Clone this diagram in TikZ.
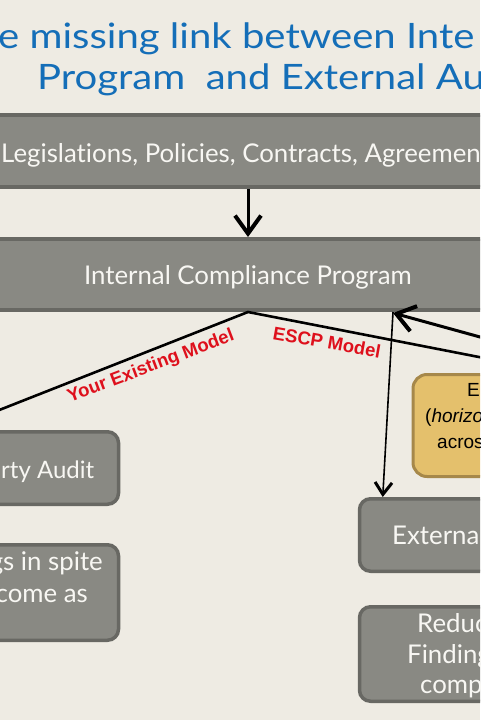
\documentclass[tikz,border=0pt]{standalone}
\usepackage{fontspec}
\setmainfont{Lato}[Ligatures=NoCommon]
\newfontfamily\titlefont[FakeStretch=1.145,Ligatures=NoCommon]{Lato}
\newfontfamily\arialfont{Liberation Sans}
\usetikzlibrary{arrows.meta}
\definecolor{bg}{RGB}{238,235,227}
\definecolor{boxfill}{RGB}{137,137,131}
\definecolor{boxline}{RGB}{104,104,99}
\definecolor{titleblue}{RGB}{20,110,184}
\definecolor{gold}{RGB}{228,192,108}
\definecolor{goldline}{RGB}{166,136,74}
\definecolor{labelred}{RGB}{222,16,28}
\definecolor{boxtext}{RGB}{248,247,243}
\begin{document}
\begin{tikzpicture}[x=1pt,y=-1pt,
  graybar/.style={draw=boxline, line width=4pt, fill=boxfill, inner sep=0pt},
  graybox/.style={draw=boxline, line width=3.5pt, fill=boxfill, rounded corners=11pt, inner sep=0pt},
  goldbox/.style={draw=goldline, line width=3pt, fill=gold, rounded corners=14pt, inner sep=0pt},
  titletext/.style={text=titleblue, font=\titlefont\fontsize{35}{40}\selectfont, inner sep=0pt},
  boxlabel/.style={text=boxtext, font=\fontsize{25.8}{30}\selectfont, inner sep=0pt},
  goldtext/.style={text=black, font=\arialfont\fontsize{19}{23}\selectfont, inner sep=0pt},
  redlabel/.style={text=labelred, font=\arialfont\bfseries\fontsize{18.5}{22}\selectfont, inner sep=0pt},
  thickarrow/.style={line width=3pt, -{Straight Barb[length=18pt,width=26pt,line width=4pt]}},
  thinarrow/.style={line width=1.6pt, -{Straight Barb[length=12pt,width=17pt,line width=3pt]}},
  modelline/.style={line width=2.6pt}
]
\useasboundingbox (0,0) rectangle (480,720);
\clip (0,0) rectangle (480,720);
\fill[bg] (0,0) rectangle (480,720);

% title
\node[titletext, anchor=base west] (title1) at (-2,48) {e missing link between Inte};
\node[titletext, anchor=base west] (title2) at (37,89) {Program~~and External Au};

% top bars
\node[graybar, minimum width=620pt, minimum height=72pt] (legis) at (248,151) {};
\node[boxlabel, anchor=base west] (legistext) at (1,162) {Legislations, Policies, Contracts, Agreemen};
\node[graybar, minimum width=620pt, minimum height=71pt] (icp) at (248,274.5) {};
\node[boxlabel] (icptext) at (248,277) {Internal Compliance Program};

\draw[thickarrow] (legis.south) -- (icp.north);

% left boxes
\node[graybox, minimum width=220pt, minimum height=72.5pt, anchor=east] (tpa) at (120.25,468) {};
\node[boxlabel, font=\fontsize{24}{28}\selectfont, anchor=base west] (tpatext) at (1,478) {rty Audit};
\node[graybox, minimum width=220pt, minimum height=95.5pt, anchor=east] (find) at (120.25,592.5) {};
\node[boxlabel, anchor=base east] (findtext1) at (103,570) {gs in spite};
\node[boxlabel, anchor=base east] (findtext2) at (88,602) {come as};

% right boxes
\node[goldbox, minimum width=220pt, minimum height=102pt, anchor=west] (escp) at (411.5,425.5) {};
\node[goldtext, anchor=base west] (escp1) at (467,396) {E};
\node[goldtext, anchor=base west] (escp2) at (425,422) {(\textit{horizo}};
\node[goldtext, anchor=base west] (escp3) at (437,448) {acros};

\node[graybox, minimum width=220pt, minimum height=72.5pt, anchor=west] (ext) at (357.75,535) {};
\node[boxlabel, anchor=base west] (exttext) at (392,544) {Externa};
\node[graybox, minimum width=220pt, minimum height=94.5pt, anchor=west] (red) at (357.75,654) {};
\node[boxlabel, anchor=base west] (redtext1) at (417,632) {Reduc};
\node[boxlabel, anchor=base west] (redtext2) at (407,663) {Finding};
\node[boxlabel, anchor=base west] (redtext3) at (420,693) {comp};

% model lines
\coordinate (leftend) at (-20,417.6);
\coordinate (rightend) at (520,365);
\draw[modelline] (leftend) -- (icp.south) -- (rightend);
\node[redlabel, rotate=20.8] (yourmodel) at (151,367) {Your Existing Model};
\node[redlabel, rotate=-10] (escpmodel) at (327,342) {ESCP Model};

% arrows on right
\path (icp.south) ++(145,0) coordinate (icpR);
\path (icp.south) ++(145,1) coordinate (icpRtip);
\path (ext.north west) ++(25,0) coordinate (extTop);
\coordinate (feedback) at (520,348);
\draw[thinarrow] (icpR) -- (extTop);
\draw[thickarrow] (feedback) -- (icpRtip);
\end{tikzpicture}
\end{document}
